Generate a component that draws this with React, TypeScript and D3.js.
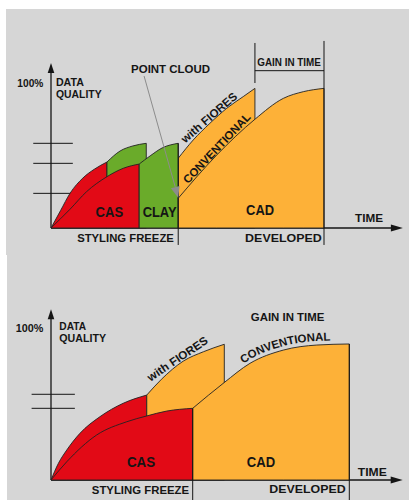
import React from "react";
import * as d3 from "d3";

type Pt = [number, number];

// time runs 0 (start) .. 100 (conventional "developed"), quality in % of target

// top chart: CAS -> CLAY -> CAD
const topFioresCas: Pt[] = [[0, 0], [3.5, 12], [7, 24], [11.7, 34.5], [16, 40.7], [20.5, 45.5]];
const topFioresClay: Pt[] = [[20.5, 45.5], [25.3, 53.1], [30, 56.6], [34.9, 58.4]];
const topFioresCad: Pt[] = [[46.6, 48.1], [52.1, 60.7], [58.2, 72.2], [64.4, 82.6], [70.4, 90.6], [74.7, 96.3]];
const topConvCas: Pt[] = [[0, 0], [7, 13], [13, 25], [20.5, 35.4], [26.5, 41.2], [32.3, 44.1]];
const topConvClay: Pt[] = [[32.3, 44.1], [36.3, 49.7], [40.7, 55.2], [46.6, 58.4]];
const topConvCad: Pt[] = [[46.6, 20.5], [60.7, 50.3], [74.7, 75], [85.1, 89.4], [92.4, 94], [100, 96.3]];
const topTicks = [58.4, 44.6, 23.9];

// bottom chart: CAS -> CAD
const botFioresCas: Pt[] = [[0, 0], [2.5, 11], [5.3, 19.7], [9.7, 30.6], [16.4, 41.5], [24.2, 50.3], [32.1, 55.7]];
const botFioresCad: Pt[] = [[32.1, 55.7], [37, 66], [44.3, 77.9], [51.1, 84.1], [58.1, 89]];
const botConvCas: Pt[] = [[0, 0], [5.3, 12], [15.3, 29.5], [25.4, 38.2], [32.1, 42], [38.8, 45.2], [47.5, 47]];
const botConvCad: Pt[] = [[47.5, 47], [58, 63.8], [66.7, 76.5], [77.9, 85.2], [89.1, 88.5], [100, 89.2]];
const botTicks = [56.2, 47];

const RED = "#e20a16";
const GREEN = "#6aab2a";
const YELLOW = "#fdb138";
const BG = "#d6d6d6";
const INK = "#151515";
const FONT = "'Liberation Sans', Arial, sans-serif";

const lbl = (extra: any = {}) => ({
  fontFamily: FONT,
  fontWeight: 700,
  fill: INK,
  dominantBaseline: "central" as const,
  lengthAdjust: "spacingAndGlyphs",
  ...extra,
});

function areaOf(x: any, y: any, pts: Pt[]) {
  return d3
    .area<Pt>()
    .x((d) => x(d[0]))
    .y0(y(0))
    .y1((d) => y(d[1]))
    .curve(d3.curveMonotoneX)(pts) as string;
}

function Axes({ x, y, xTip, yTip, ticks }: any) {
  const x0 = x(0), y0 = y(0);
  const xt = x(xTip), yt = y(yTip);
  return (
    <g>
      {ticks.map((t: number) => (
        <line key={t} x1={x(-6.5)} x2={x(8)} y1={y(t)} y2={y(t)} stroke={INK} strokeWidth={1} />
      ))}
      <line x1={x0} x2={x0} y1={y0} y2={yt + 8} stroke={INK} strokeWidth={1.3} />
      <path d={`M${x0},${yt} L${x0 - 3.3},${yt + 10} L${x0 + 3.3},${yt + 10} Z`} fill={INK} />
      <line x1={x0} x2={xt - 8} y1={y0} y2={y0} stroke={INK} strokeWidth={1.3} />
      <path d={`M${xt},${y0} L${xt - 12},${y0 - 3.6} L${xt - 12},${y0 + 3.6} Z`} fill={INK} />
    </g>
  );
}

function Areas({ x, y, segs }: any) {
  return (
    <g>
      {segs.map((s: any, i: number) => (
        <path key={i} d={areaOf(x, y, s.pts)} fill={s.color} stroke="#222" strokeWidth={0.9} strokeLinejoin="round" />
      ))}
    </g>
  );
}

function TopChart() {
  const x = d3.scaleLinear().domain([0, 100]).range([51, 324]);
  const y = d3.scaleLinear().domain([0, 100]).range([228, 83]);
  const fiores = [
    { pts: topFioresCas, color: RED },
    { pts: topFioresClay, color: GREEN },
    { pts: topFioresCad, color: YELLOW },
  ];
  const conv = [
    { pts: topConvCas, color: RED },
    { pts: topConvClay, color: GREEN },
    { pts: topConvCad, color: YELLOW },
  ];
  // point cloud pointer
  const ax0 = x(34.1), ay0 = y(104.8), ax1 = x(46.6), ay1 = y(20.9);
  const ang = Math.atan2(ay1 - ay0, ax1 - ax0);
  const hl = 11, hw = 4.5;
  const bx = ax1 - hl * Math.cos(ang), by = ay1 - hl * Math.sin(ang);
  const head = `M${ax1},${ay1} L${bx + hw * Math.sin(ang)},${by - hw * Math.cos(ang)} L${bx - hw * Math.sin(ang)},${by + hw * Math.cos(ang)} Z`;
  return (
    <g>
      <rect x={6} y={9} width={403} height={246} fill={BG} />
      <Axes x={x} y={y} xTip={128.9} yTip={113.8} ticks={topTicks} />
      <Areas x={x} y={y} segs={fiores} />
      <Areas x={x} y={y} segs={conv} />
      {/* freeze / developed / gain markers */}
      <line x1={x(46.6)} x2={x(46.6)} y1={y(58.4)} y2={y(-11.7)} stroke={INK} strokeWidth={1} />
      <line x1={x(100)} x2={x(100)} y1={y(129)} y2={y(-11.7)} stroke={INK} strokeWidth={1} />
      <line x1={x(74.7)} x2={x(74.7)} y1={y(127.6)} y2={y(100)} stroke={INK} strokeWidth={1} />
      <line x1={x(74.7)} x2={x(100)} y1={y(108.5)} y2={y(108.5)} stroke={INK} strokeWidth={1} />
      <line x1={ax0} y1={ay0} x2={bx} y2={by} stroke="#8c8c8c" strokeWidth={1} />
      <path d={head} fill="#8c8c8c" />
      <text {...lbl()} x={x(-2.8)} y={y(99.8)} textAnchor="end" fontSize={10.5} textLength={26}>100%</text>
      <text {...lbl()} x={x(1.8)} y={y(100.2)} fontSize={10} textLength={28}>DATA</text>
      <text {...lbl()} x={x(1.8)} y={y(92)} fontSize={10} textLength={45.7}>QUALITY</text>
      <text {...lbl()} x={x(43.8)} y={y(109.7)} textAnchor="middle" fontSize={11.5} textLength={79}>POINT CLOUD</text>
      <text {...lbl()} x={x(87.2)} y={y(114.3)} textAnchor="middle" fontSize={10} textLength={63.7}>GAIN IN TIME</text>
      <text {...lbl()} x={x(21.4)} y={y(11.2)} textAnchor="middle" fontSize={14.5} textLength={27.6}>CAS</text>
      <text {...lbl()} x={x(39.8)} y={y(11.2)} textAnchor="middle" fontSize={14.5} textLength={34}>CLAY</text>
      <text {...lbl()} x={x(76.6)} y={y(12.4)} textAnchor="middle" fontSize={14.5} textLength={28}>CAD</text>
      <text {...lbl()} x={x(116.5)} y={y(6.9)} textAnchor="middle" fontSize={11} textLength={28}>TIME</text>
      <text {...lbl()} x={x(45)} y={y(-6.9)} textAnchor="end" fontSize={11.5} textLength={96.7}>STYLING FREEZE</text>
      <text {...lbl()} x={x(99.2)} y={y(-6.9)} textAnchor="end" fontSize={11.5} textLength={76.7}>DEVELOPED</text>
      <text {...lbl()} textAnchor="middle" fontSize={11.5} textLength={70}
        transform={`translate(${x(57.9)},${y(76.2)}) rotate(-41)`}>with FIORES</text>
      <text {...lbl()} textAnchor="middle" fontSize={11.5} textLength={92}
        transform={`translate(${x(60.7)},${y(55)}) rotate(-46.5)`}>CONVENTIONAL</text>
    </g>
  );
}

function BottomChart() {
  const x = d3.scaleLinear().domain([0, 100]).range([51, 349.3]);
  const y = d3.scaleLinear().domain([0, 100]).range([480, 327.5]);
  const fiores = [
    { pts: botFioresCas, color: RED },
    { pts: botFioresCad, color: YELLOW },
  ];
  const conv = [
    { pts: botConvCas, color: RED },
    { pts: botConvCad, color: YELLOW },
  ];
  // label path riding just above the conventional CAD curve
  const convLabelPath = d3
    .line<Pt>()
    .x((d) => x(d[0]))
    .y((d) => y(d[1]) - 4)
    .curve(d3.curveMonotoneX)(botConvCad.slice(1)) as string;
  return (
    <g>
      <rect x={7} y={255} width={402} height={245} fill={BG} />
      <Axes x={x} y={y} xTip={117.9} yTip={111.9} ticks={botTicks} />
      <Areas x={x} y={y} segs={fiores} />
      <Areas x={x} y={y} segs={conv} />
      <line x1={x(47.5)} x2={x(47.5)} y1={y(47)} y2={y(-14)} stroke={INK} strokeWidth={1} />
      <line x1={x(100)} x2={x(100)} y1={y(89.2)} y2={y(-14)} stroke={INK} strokeWidth={1} />
      <path id="convLabelPath" d={convLabelPath} fill="none" stroke="none" />
      <text {...lbl()} x={x(-2.6)} y={y(99.9)} textAnchor="end" fontSize={10.5} textLength={27.6}>100%</text>
      <text {...lbl()} x={x(2.8)} y={y(100.4)} fontSize={10} textLength={26.7}>DATA</text>
      <text {...lbl()} x={x(2.8)} y={y(92.9)} fontSize={10} textLength={46.7}>QUALITY</text>
      <text {...lbl()} x={x(79.3)} y={y(106.7)} textAnchor="middle" fontSize={11} textLength={73.6}>GAIN IN TIME</text>
      <text {...lbl()} x={x(30.2)} y={y(11.6)} textAnchor="middle" fontSize={14.5} textLength={28.3}>CAS</text>
      <text {...lbl()} x={x(70.4)} y={y(12)} textAnchor="middle" fontSize={14.5} textLength={28.3}>CAD</text>
      <text {...lbl()} x={x(107.7)} y={y(5.4)} textAnchor="middle" fontSize={11} textLength={29}>TIME</text>
      <text {...lbl()} x={x(46.3)} y={y(-6.6)} textAnchor="end" fontSize={11.5} textLength={97.3}>STYLING FREEZE</text>
      <text {...lbl()} x={x(98.8)} y={y(-5.9)} textAnchor="end" fontSize={11.5} textLength={76.4}>DEVELOPED</text>
      <text {...lbl()} textAnchor="middle" fontSize={11.5} textLength={70.2}
        transform={`translate(${x(42.4)},${y(79.5)}) rotate(-34)`}>with FIORES</text>
      <text fontFamily={FONT} fontWeight={700} fill={INK} fontSize={11.5}>
        <textPath href="#convLabelPath" startOffset="52%" textAnchor="middle" textLength={91.7} lengthAdjust="spacingAndGlyphs">
          CONVENTIONAL
        </textPath>
      </text>
    </g>
  );
}

export default function App() {
  return (
    <svg
      width={409}
      height={500}
      viewBox="0 0 409 500"
      style={{ position: "absolute", left: 0, top: 0, background: "#fff" }}
    >
      <TopChart />
      <BottomChart />
    </svg>
  );
}
